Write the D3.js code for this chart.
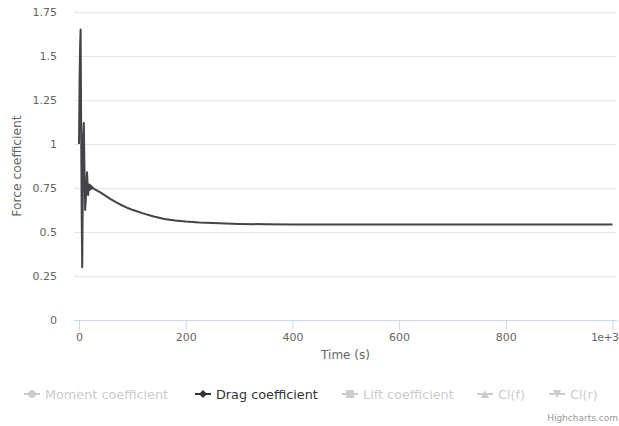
<!DOCTYPE html>
<html>
<head>
<meta charset="utf-8">
<script src="https://cdn.jsdelivr.net/npm/d3@7"></script>
<style>
  body { margin: 0; background: #fff; }
  svg { font-family: "DejaVu Sans", sans-serif; display: block; }
</style>
</head>
<body>
<div id="chart"></div>
<script>
// Drag coefficient series
var times = [0, 1, 2, 3, 4, 5, 6, 7, 8, 9, 10, 11.5, 13, 15, 17, 19, 20.5, 22, 23.5, 25, 28,
  40, 50, 60, 70, 80, 90, 100, 120, 140, 160, 180, 200, 225, 250, 300, 350, 400,
  500, 600, 700, 800, 900, 1000];
var dragValues = [1.0, 1.35, 1.55, 1.65, 1.1, 0.6, 0.3, 0.7, 1.05, 1.12, 0.9, 0.625, 0.7, 0.84, 0.71, 0.77, 0.74, 0.765, 0.745, 0.755, 0.745,
  0.725, 0.705, 0.685, 0.668, 0.652, 0.638, 0.626, 0.606, 0.588, 0.574, 0.565, 0.559, 0.554, 0.551, 0.546, 0.544, 0.543,
  0.543, 0.543, 0.543, 0.543, 0.543, 0.543];

var xTicks = [0, 200, 400, 600, 800, 1000];
var yTicks = [0, 0.25, 0.5, 0.75, 1, 1.25, 1.5, 1.75];

var legendNames = ["Moment coefficient", "Drag coefficient", "Lift coefficient", "Cl(f)", "Cl(r)"];
var legendSymbols = ["circle", "diamond", "square", "triangle", "triangle-down"];
var legendVisible = [false, true, false, false, false];

var svgWidth = 619;
var svgHeight = 426;
var plot = { left: 74, right: 617, top: 12, bottom: 320 };

var svg = d3.select("#chart")
  .append("svg")
  .attr("width", svgWidth)
  .attr("height", svgHeight);

var x = d3.scaleLinear()
  .domain([-9.4, 1008.4])
  .range([plot.left, plot.right]);

var y = d3.scaleLinear()
  .domain([0, 1.75])
  .range([plot.bottom, plot.top]);

// grid lines
svg.append("g")
  .selectAll("line")
  .data(yTicks.filter(d => d > 0))
  .enter()
  .append("line")
  .attr("x1", plot.left)
  .attr("x2", plot.right)
  .attr("y1", d => Math.round(y(d)) + 0.5)
  .attr("y2", d => Math.round(y(d)) + 0.5)
  .attr("stroke", "#e6e6e6");

// y labels
svg.append("g")
  .selectAll("text")
  .data(yTicks)
  .enter()
  .append("text")
  .attr("x", 57)
  .attr("y", d => y(d) + 4)
  .attr("text-anchor", "end")
  .attr("font-size", 11)
  .attr("fill", "#666666")
  .text(d => d);

svg.append("text")
  .attr("transform", "translate(21," + ((plot.top + plot.bottom) / 2) + ") rotate(-90)")
  .attr("text-anchor", "middle")
  .attr("font-size", 12.3)
  .attr("fill", "#666666")
  .text("Force coefficient");

// x axis
var bottomAxis = d3.axisBottom(x)
  .tickValues(xTicks)
  .tickSize(10)
  .tickFormat(d => d === 1000 ? "1e+3" : d);

var xAxis = svg.append("g")
  .attr("transform", "translate(0," + (plot.bottom + 0.5) + ")")
  .call(bottomAxis);

xAxis.select(".domain").attr("stroke", "#ccd6eb").attr("d", "M" + plot.left + ",0H" + plot.right);
xAxis.selectAll(".tick line").attr("stroke", "#ccd6eb");
xAxis.selectAll(".tick text")
  .attr("y", 13)
  .attr("font-size", 11)
  .attr("font-family", "DejaVu Sans, sans-serif")
  .attr("fill", "#666666");
// last label pushed inside like Highcharts does
xAxis.selectAll(".tick text")
  .filter(d => d === 1000)
  .attr("text-anchor", "end")
  .attr("x", 618 - x(1000))
  .attr("letter-spacing", -0.6);

svg.append("text")
  .attr("x", (plot.left + plot.right) / 2)
  .attr("y", 359)
  .attr("text-anchor", "middle")
  .attr("font-size", 12)
  .attr("fill", "#666666")
  .text("Time (s)");

// drag line
var line = d3.line()
  .x((d, i) => x(times[i]))
  .y(d => y(d));

svg.append("path")
  .datum(dragValues)
  .attr("d", line)
  .attr("fill", "none")
  .attr("stroke", "#434348")
  .attr("stroke-width", 2)
  .attr("stroke-linejoin", "round");

// legend, highcharts style markers (radius 4)
var markerPaths = {
  "circle": "M8,-4A4,4 0 1,1 7.99,-4Z",
  "diamond": "M8,-4L12,0L8,4L4,0Z",
  "square": "M4,-4H12V4H4Z",
  "triangle": "M8,-4L12,4H4Z",
  "triangle-down": "M4,-4H12L8,4Z"
};
var legendX = [24, 195, 342, 477, 549];
var legend = svg.append("g").attr("transform", "translate(0,394)");
legendNames.forEach(function(name, i) {
  var color = legendVisible[i] ? "#333333" : "#cccccc";
  var item = legend.append("g").attr("transform", "translate(" + legendX[i] + ",0)");
  item.append("line")
    .attr("x1", 0).attr("x2", 16)
    .attr("stroke", color).attr("stroke-width", 2);
  item.append("path")
    .attr("d", markerPaths[legendSymbols[i]])
    .attr("fill", color);
  item.append("text")
    .attr("x", 21)
    .attr("y", 4.5)
    .attr("font-size", 12.8)
    .attr("fill", color)
    .text(name);
});

svg.append("text")
  .attr("x", 618)
  .attr("y", 421)
  .attr("text-anchor", "end")
  .attr("font-size", 9)
  .attr("fill", "#999999")
  .text("Highcharts.com");
</script>
</body>
</html>
